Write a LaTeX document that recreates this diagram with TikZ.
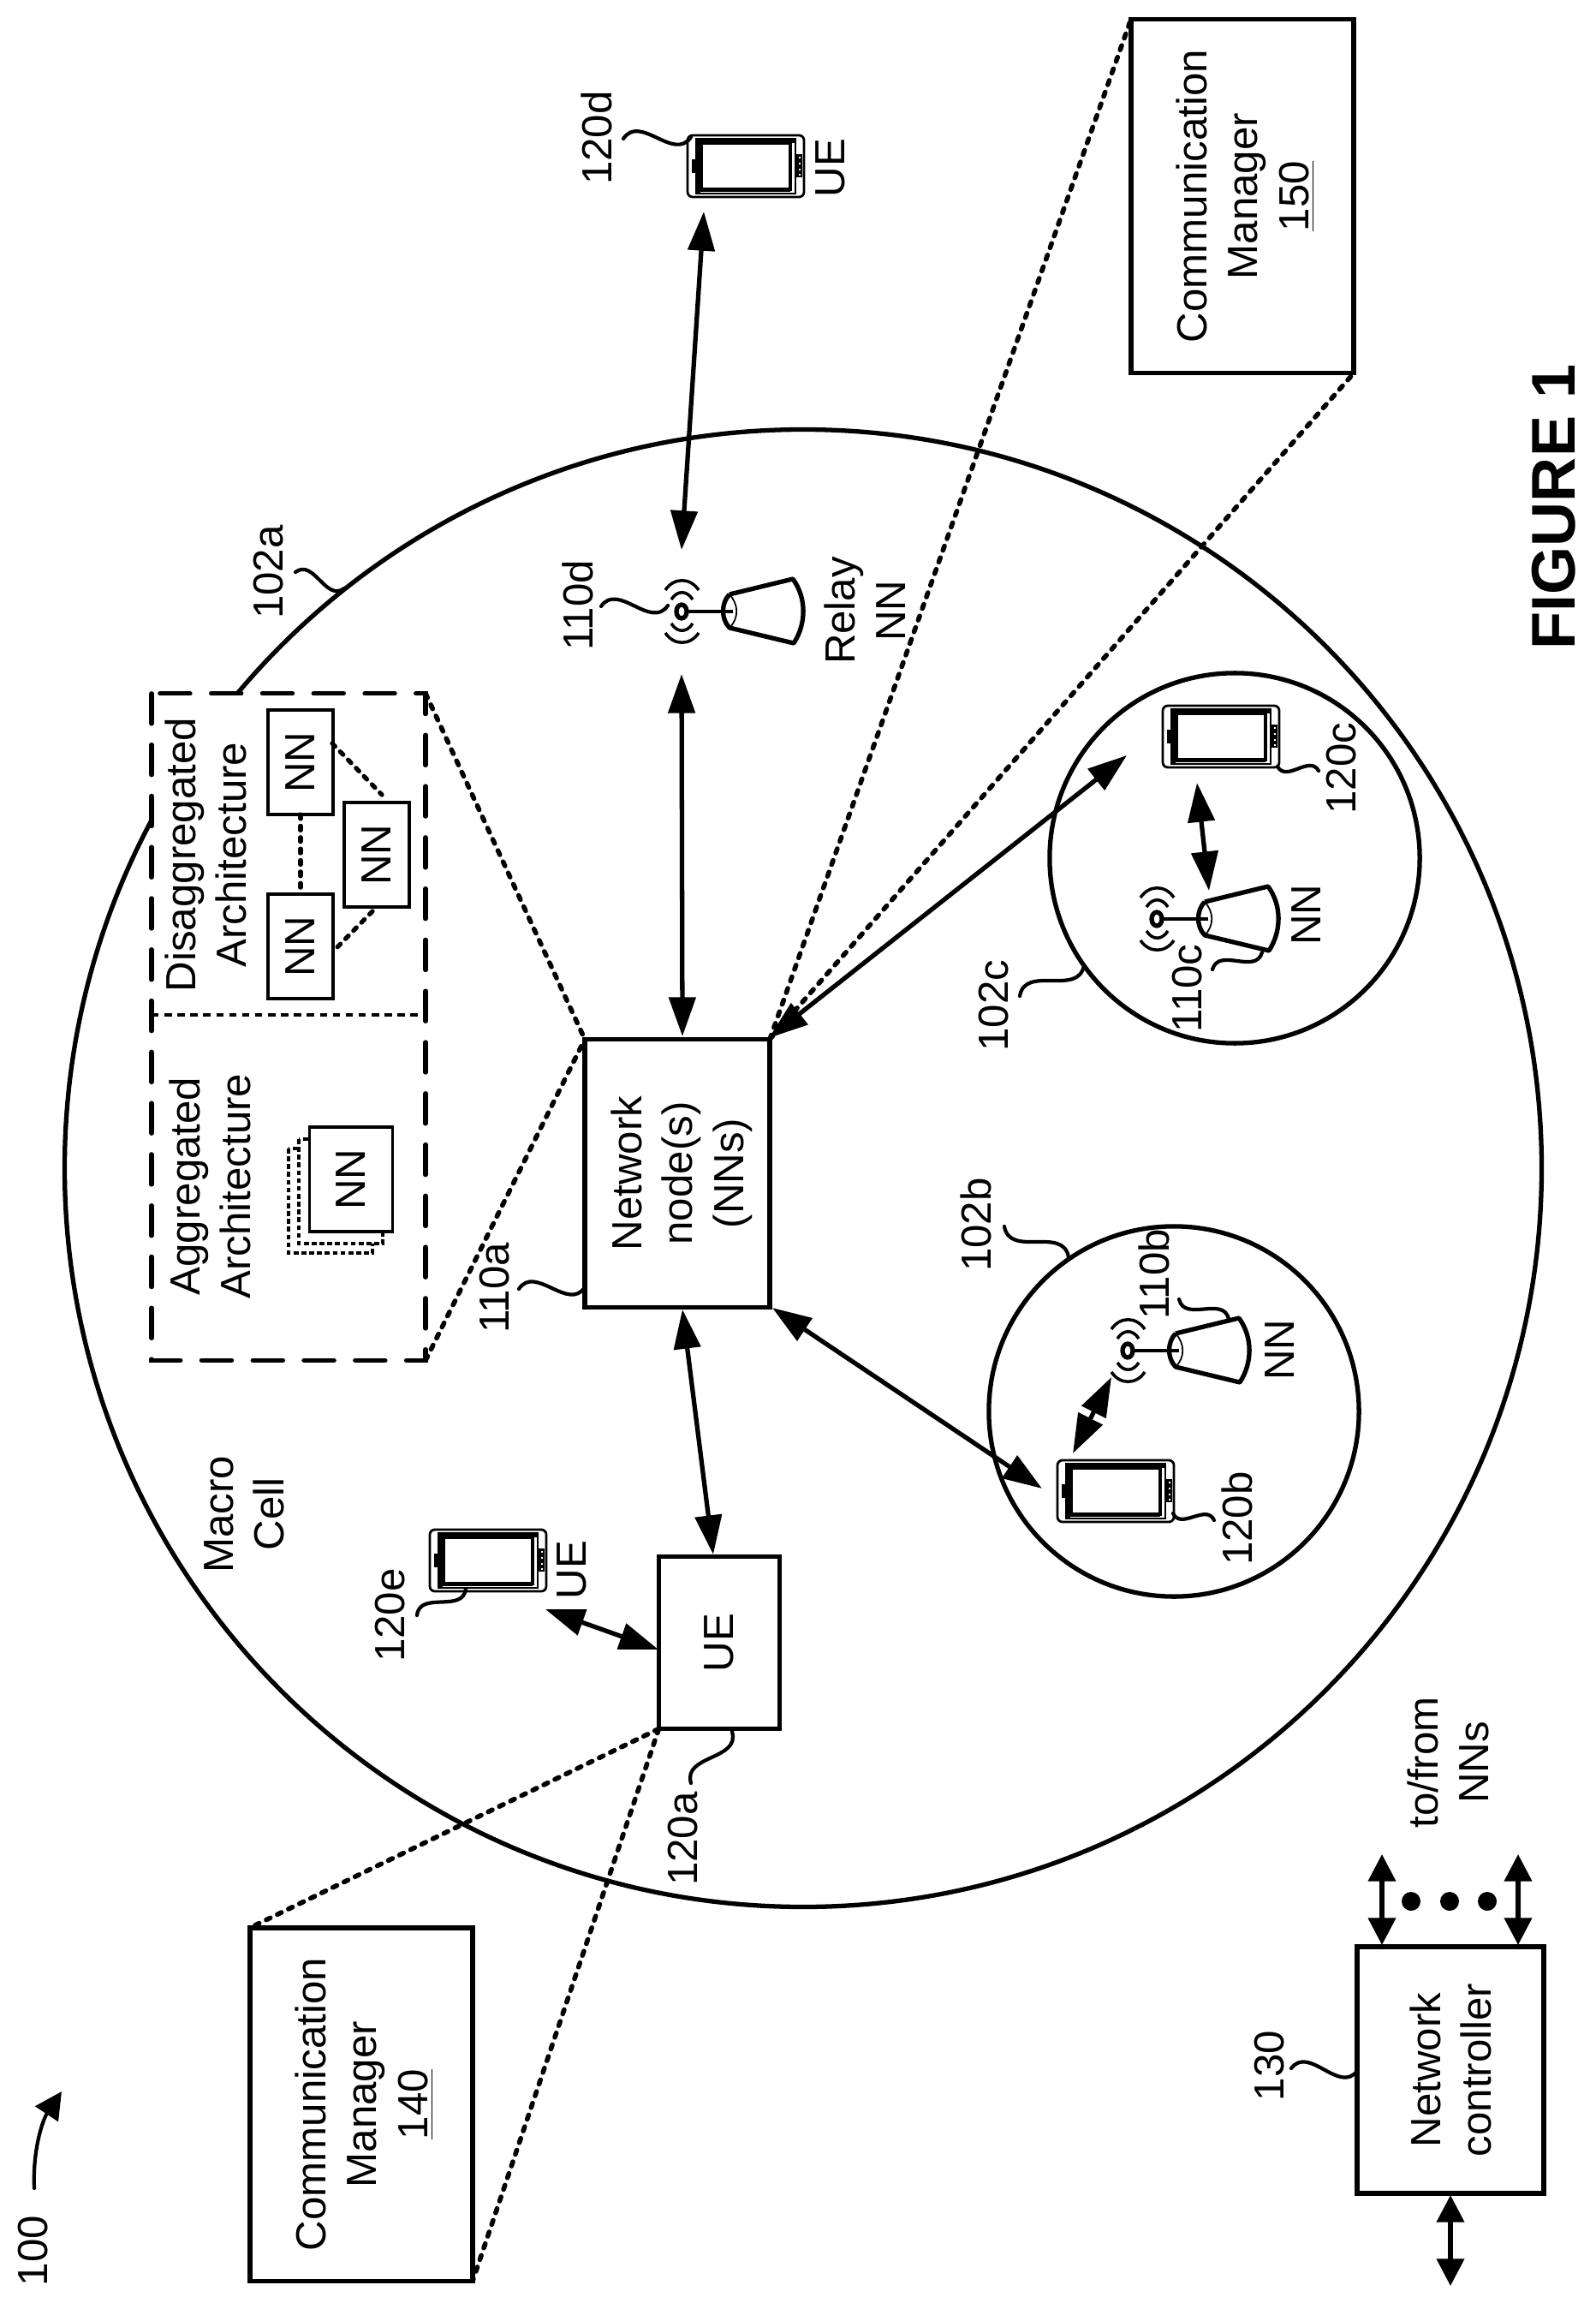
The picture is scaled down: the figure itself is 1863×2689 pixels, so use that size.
\documentclass[tikz,border=0pt]{standalone}
\usepackage{fontspec}
\setmainfont{Liberation Sans}
\usetikzlibrary{shapes,arrows.meta,positioning,calc}

\tikzset{
    txt/.style={rotate=90, inner sep=0pt, outer sep=0pt, align=center, text depth=0pt,
        font=\fontsize{14}{16.9}\selectfont},
    blockbox/.style={txt, draw, fill=white, line width=1.5pt},
    nnbox/.style={blockbox, line width=1pt, minimum width=1.22cm, minimum height=0.76cm},
    stackbox/.style={rotate=90, draw, fill=white, inner sep=0pt, line width=0.9pt,
        dash pattern=on 1.6pt off 1pt, minimum width=1.22cm, minimum height=0.98cm},
    archbox/.style={rotate=90, draw, fill=white, inner sep=0pt, outer sep=0pt, line width=1.5pt,
        line cap=round, dash pattern=on 10pt off 7pt},
    cell/.style={circle, draw, inner sep=0pt, outer sep=0pt, line width=1.5pt},
    phonebody/.style={draw, rounded corners=1.7pt, inner sep=0pt, outer sep=0pt, line width=0.8pt,
        minimum width=1.36cm, minimum height=0.72cm},
    link/.style={<->, >={Triangle[length=13pt,width=8.8pt]}, line width=1.5pt},
    ctrlink/.style={<->, >={Triangle[length=9pt,width=9pt]}, line width=1.5pt},
    lead/.style={line width=1.2pt, line cap=round},
    dotlink/.style={line width=1.6pt, line cap=round, dash pattern=on 1.5pt off 2.6pt},
    nnlink/.style={line width=1.5pt, line cap=round, dash pattern=on 1.4pt off 2.4pt},
}

% wavy reference line between two points
\newcommand{\squiggle}[3]{\draw[lead] (#1) .. controls ($(#1)!0.45!#3:(#2)$) and ($(#2)!0.45!#3:(#1)$) .. (#2);}

% handset: name, x, y
\newcommand{\phoneicon}[3]{
    \node[phonebody] (#1) at (#2,#3) {};
    \begin{scope}[shift={(#2,#3)}]
        \draw[line width=0.6pt] (-58,-32) rectangle (58,32);
        \draw[line width=0.9pt] (-52,-27) rectangle (52,27);
        \fill (-58,-32) rectangle (58,-27);
        \fill (-58,-32) rectangle (-53,32);
        \fill (-53,28) rectangle (52,30);
        \fill (-63,-8) rectangle (-59,8);
        \fill (59,-14) rectangle (66,13);
        \foreach \d in {-10,-3,4,10} {
            \fill[white] (62,\d-1) rectangle (64,\d+1);
        }
    \end{scope}
}

% radio cup with mast: name, x, y
\newcommand{\antennaicon}[3]{
    \node[inner sep=0pt, outer sep=0pt] (#1) at (#2,#3) {};
    \begin{scope}[shift={(#2,#3)}]
        \draw[line width=1.5pt] (0,0) ellipse (6 and 8);
        \draw[line width=1pt] (7,0) -- (60,0);
        \draw[line width=1.5pt, line join=round] (56,-20) -- (130,-38)
            .. controls (146,-16) and (146,14) .. (131,37) -- (56,19)
            .. controls (46,9) and (46,-10) .. (56,-20);
        \draw[line width=0.5pt] (56,-20) .. controls (67,-8) and (67,8) .. (56,19);
        \foreach \s in {-1,1} {
            \draw[line width=1pt] (-19,\s*25) .. controls (-9,\s*40) and (10,\s*40) .. (20,\s*25);
            \draw[line width=1pt] (-12,\s*14) .. controls (-5,\s*25) and (6,\s*25) .. (13,\s*14);
        }
    \end{scope}
}

\begin{document}
\begin{tikzpicture}[x=0.01cm,y=-0.01cm]
    \useasboundingbox (0,0) rectangle (1863,2689);

    % Cells
    \node[cell, minimum size=17.24cm] (cella) at (938,1364) {};
    \node[cell, minimum size=4.32cm] (cellb) at (1371,1648) {};
    \node[cell, minimum size=4.32cm] (cellc) at (1442,1002) {};

    % Architecture inset
    \node[archbox, minimum width=7.78cm, minimum height=3.2cm] (arch) at (337,1199) {};
    \draw[line width=1.1pt, dash pattern=on 2.4pt off 1.9pt] ([shift={(-160,-14)}]arch.center) -- ([shift={(160,-14)}]arch.center);
    \node[txt] (disagg) at (240,998) {Disaggregated\\Architecture};
    \node[txt] (agg) at (245,1385) {Aggregated\\Architecture};
    \node[nnbox] (nnone) at (351,890) {NN};
    \node[nnbox] (nntwo) at (351,1105) {NN};
    \node[nnbox] (nnthree) at (440,998) {NN};
    \draw[nnlink] (nnone) -- (nntwo);
    \draw[nnlink] ([shift={(37,-22)}]nnone.center) -- ([shift={(6,-70)}]nnthree.center);
    \draw[nnlink] ([shift={(-5,66)}]nnthree.center) -- ([shift={(38,6)}]nntwo.center);
    \node[stackbox] (stackc) at (386,1402) {};
    \node[stackbox] (stackb) at (398,1391) {};
    \node[nnbox, minimum height=0.97cm] (nnagg) at (410,1377) {NN};

    % Main blocks
    \node[blockbox, minimum width=3.13cm, minimum height=2.16cm] (net) at (791,1370) {Network\\node(s)\\(NNs)};
    \node[blockbox, minimum width=2.01cm, minimum height=1.41cm] (ue) at (840,1918) {UE};
    \node[blockbox, minimum width=4.13cm, minimum height=2.6cm] (mgrb) at (1451,229) {Communication\\Manager\\\underline{150}};
    \node[blockbox, minimum width=4.12cm, minimum height=2.6cm] (mgra) at (422,2457) {Communication\\Manager\\\underline{140}};
    \node[blockbox, minimum width=2.88cm, minimum height=2.18cm] (ctrl) at (1694,2417) {Network\\controller};

    % Handsets and radio cups
    \phoneicon{phoned}{871}{194}
    \phoneicon{phonec}{1426}{860}
    \phoneicon{phoneb}{1303}{1741}
    \phoneicon{phonee}{570}{1822}
    \antennaicon{antd}{796}{714}
    \antennaicon{antc}{1351}{1073}
    \antennaicon{antb}{1317}{1577}

    % Dotted call-outs
    \draw[dotlink] (arch.south east) -- (net.north east);
    \draw[dotlink] (arch.south west) -- (net.north east);
    \draw[dotlink] (net.south east) -- (mgrb.north east);
    \draw[dotlink] (net.south east) -- (mgrb.south west);
    \draw[dotlink] (ue.north west) -- (mgra.north east);
    \draw[dotlink] (ue.north west) -- (mgra.south west);

    % Radio links
    \draw[link] ([shift={(-49,53)}]phoned.center) -- ([shift={(0,-72)}]antd.center);
    \draw[link] ([shift={(0,73)}]antd.center) -- ([shift={(6,-160)}]net.center);
    \draw[link] ([shift={(6,159)}]net.center) -- ([shift={(-7,-103)}]ue.center);
    \draw[link] ([shift={(111,157)}]net.center) -- ([shift={(-86,-3)}]phoneb.center);
    \draw[link] ([shift={(107,-158)}]net.center) -- ([shift={(-110,22)}]phonec.center);
    \draw[link] ([shift={(-28,54)}]phonec.center) -- ([shift={(61,-33)}]antc.center);
    \draw[link] ([shift={(-19,31)}]antb.center) -- ([shift={(-50,-44)}]phoneb.center);
    \draw[link] ([shift={(67,57)}]phonee.center) -- ([shift={(-71,8)}]ue.center);

    % Controller links
    \coordinate (freea) at (1614,2165);
    \coordinate (freeb) at (1773,2165);
    \coordinate (freec) at (1694,2669);
    \draw[ctrlink] (freea) -- ([shift={(-80,-146)}]ctrl.center);
    \draw[ctrlink] (freeb) -- ([shift={(79,-146)}]ctrl.center);
    \draw[ctrlink] (freec) -- ([shift={(0,146)}]ctrl.center);
    \foreach \x in {1648,1693,1737} {
        \fill (\x,2220) circle (11);
    }

    % Labels
    \node[txt] (lab120d) at (697,161) {120d};
    \node[txt] (labued) at (970,196) {UE};
    \node[txt] (lab110d) at (675,707) {110d};
    \node[txt] (labrelay) at (1010,713) {Relay\\NN};
    \node[txt] (lab102a) at (313,668) {102a};
    \node[txt] (lab110a) at (577,1504) {110a};
    \node[txt] (lab120e) at (455,1886) {120e};
    \node[txt] (labuee) at (668,1833) {UE};
    \node[txt] (lab120a) at (797,2147) {120a};
    \node[txt] (labmacro) at (285,1768) {Macro\\Cell};
    \node[txt] (lab102c) at (1160,1174) {102c};
    \node[txt] (lab110c) at (1386,1154) {110c};
    \node[txt] (lab120c) at (1566,897) {120c};
    \node[txt] (labnnc) at (1526,1068) {NN};
    \node[txt] (lab102b) at (1140,1430) {102b};
    \node[txt] (lab110b) at (1348,1488) {110b};
    \node[txt] (lab120b) at (1445,1773) {120b};
    \node[txt] (labnnb) at (1495,1576) {NN};
    \node[txt] (lab130) at (1482,2412) {130};
    \node[txt] (labfrom) at (1691,2058) {to/from\\NNs};
    \node[txt] (lab100) at (38,2628) {100};
    \node[txt, font=\fontsize{20.5}{25}\selectfont\bfseries] (labfig) at (1814,592) {FIGURE 1};

    % Reference lines
    \squiggle{[shift={(31,1)}]lab120d.center}{[shift={(-64,-34)}]phoned.center}{55}
    \squiggle{[shift={(27,1)}]lab110d.center}{[shift={(-16,-7)}]antd.center}{55}
    \squiggle{[shift={(32,0)}]lab120e.center}{[shift={(-26,33)}]phonee.center}{55}
    \squiggle{[shift={(29,1)}]lab110a.center}{[shift={(-108,133)}]net.center}{55}
    \squiggle{[shift={(10,-65)}]lab120a.center}{[shift={(15,104)}]ue.center}{55}
    \squiggle{[shift={(32,0)}]lab102a.center}{[shift={(-536,-677)}]cella.center}{55}
    \squiggle{[shift={(31,-11)}]lab102c.center}{[shift={(-176,125)}]cellc.center}{55}
    \squiggle{[shift={(33,2)}]lab102b.center}{[shift={(-123,-180)}]cellb.center}{-55}
    \squiggle{[shift={(30,-22)}]lab110c.center}{[shift={(123,39)}]antc.center}{55}
    \squiggle{[shift={(66,35)}]phonec.center}{[shift={(-26,3)}]lab120c.center}{-55}
    \squiggle{[shift={(67,26)}]phoneb.center}{[shift={(-27,2)}]lab120b.center}{-55}
    \squiggle{[shift={(29,29)}]lab110b.center}{[shift={(118,-37)}]antb.center}{-55}
    \squiggle{[shift={(26,3)}]lab130.center}{[shift={(-109,1)}]ctrl.center}{55}

    % Arrow next to 100
    \coordinate (refa) at (40,2555);
    \coordinate (refb) at (72,2442);
    \draw[lead, -{Triangle[length=9pt,width=9pt]}] (refa) .. controls (38,2510) and (50,2475) .. (refb);
\end{tikzpicture}
\end{document}
